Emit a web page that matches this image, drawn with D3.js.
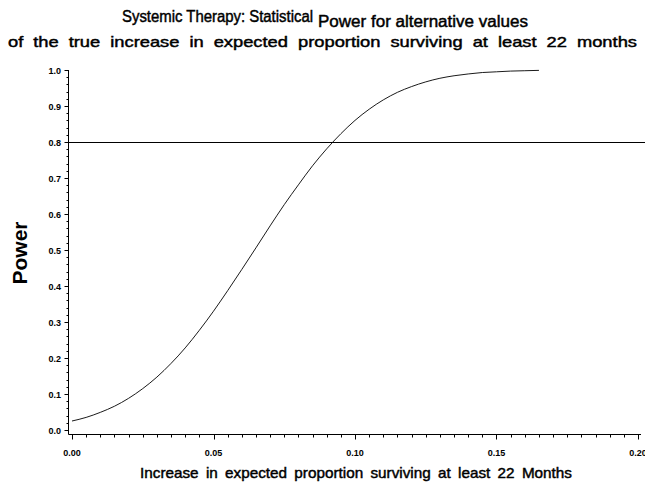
<!DOCTYPE html>
<html><head><meta charset="utf-8">
<script src="https://cdn.jsdelivr.net/npm/d3@7"></script>
<style>body{margin:0;background:#fff}svg{display:block}text{font-family:"Liberation Sans",Arial,sans-serif;fill:#000}</style>
</head><body>
<script>
const increase = [0.000,0.005,0.010,0.015,0.020,0.025,0.030,0.035,0.040,0.045,0.050,0.055,0.060,0.065,0.070,0.075,0.080,0.085,0.090,0.095,0.100,0.105,0.110,0.115,0.120,0.125,0.130,0.135,0.140,0.145,0.150,0.155,0.160,0.165];
const power = [0.025,0.035,0.049,0.066,0.088,0.115,0.147,0.185,0.228,0.277,0.330,0.387,0.446,0.506,0.567,0.626,0.681,0.734,0.781,0.823,0.860,0.891,0.917,0.938,0.954,0.967,0.977,0.984,0.989,0.993,0.995,0.997,0.998,0.999];
const refPower = 0.8;
const xTicks = [0, 0.05, 0.10, 0.15, 0.20];
const yTicks = [0,0.1,0.2,0.3,0.4,0.5,0.6,0.7,0.8,0.9,1.0];

const W=645,H=484;
const svg=d3.select("body").append("svg").attr("width",W).attr("height",H);
const x=d3.scaleLinear().domain([0,0.2]).range([72,638]);
const y=d3.scaleLinear().domain([0,1]).range([430,70]);
const axX=68.5, axY=434.5;

svg.append("line").attr("x1",axX).attr("x2",axX).attr("y1",y(1)).attr("y2",axY).attr("stroke","#000");
svg.append("line").attr("x1",axX).attr("x2",641).attr("y1",axY).attr("y2",axY).attr("stroke","#000");

const yMinor=d3.range(0,101,2).map(d=>d/100);
svg.selectAll(".ym").data(yMinor).enter().append("line")
 .attr("x1",axX-2).attr("x2",axX).attr("y1",d=>Math.round(y(d))+0.5).attr("y2",d=>Math.round(y(d))+0.5).attr("stroke","#000");
svg.selectAll(".yM").data(yTicks).enter().append("line")
 .attr("x1",axX-4).attr("x2",axX).attr("y1",d=>Math.round(y(d))+0.5).attr("y2",d=>Math.round(y(d))+0.5).attr("stroke","#000");
svg.selectAll(".yl").data(yTicks).enter().append("text")
 .attr("x",61).attr("y",d=>y(d)+3.5).attr("text-anchor","end")
 .style("font-size","9px").style("font-weight","bold").text(d=>d.toFixed(1));

const xMinor=d3.range(0,41).map(d=>d*0.005);
svg.selectAll(".xm").data(xMinor).enter().append("line")
 .attr("x1",d=>Math.round(x(d))+0.5).attr("x2",d=>Math.round(x(d))+0.5).attr("y1",axY).attr("y2",axY+3).attr("stroke","#000");
svg.selectAll(".xM").data(xTicks).enter().append("line")
 .attr("x1",d=>Math.round(x(d))+0.5).attr("x2",d=>Math.round(x(d))+0.5).attr("y1",axY).attr("y2",axY+5).attr("stroke","#000");
svg.selectAll(".xl").data(xTicks).enter().append("text")
 .attr("x",d=>x(d)).attr("y",456).attr("text-anchor","middle")
 .style("font-size","9px").style("font-weight","bold").text(d=>d.toFixed(2));

svg.append("line").attr("x1",axX).attr("x2",W).attr("y1",Math.round(y(refPower))+0.5).attr("y2",Math.round(y(refPower))+0.5).attr("stroke","#000");

const pts=increase.map((d,i)=>[d,power[i]]);
svg.append("path").datum(pts).attr("fill","none").attr("stroke","#000").attr("stroke-width",0.9)
 .attr("d",d3.line().x(d=>x(d[0])).y(d=>y(d[1])).curve(d3.curveMonotoneX));

function heavy(sel){return sel.attr("stroke","#000").attr("stroke-width",0.45);}
heavy(svg.append("text").attr("x",122).attr("y",22).attr("textLength",191).attr("lengthAdjust","spacingAndGlyphs")
 .style("font-size","16px").text("Systemic Therapy: Statistical"));
heavy(svg.append("text").attr("x",318).attr("y",27).attr("textLength",210).attr("lengthAdjust","spacingAndGlyphs")
 .style("font-size","16px").text("Power for alternative values"));
heavy(svg.append("text").attr("x",8).attr("y",47).attr("textLength",629).attr("lengthAdjust","spacingAndGlyphs")
 .style("font-size","15px").style("word-spacing","4px").text("of the true increase in expected proportion surviving at least 22 months"));

svg.append("text").attr("transform","translate(27,253) rotate(-90)").attr("text-anchor","middle")
 .style("font-size","21px").style("font-weight","bold").text("Power");
heavy(svg.append("text").attr("x",140).attr("y",478).attr("textLength",432).attr("lengthAdjust","spacingAndGlyphs")
 .style("font-size","15px").style("word-spacing","3px").text("Increase in expected proportion surviving at least 22 Months"));
</script>
</body></html>
